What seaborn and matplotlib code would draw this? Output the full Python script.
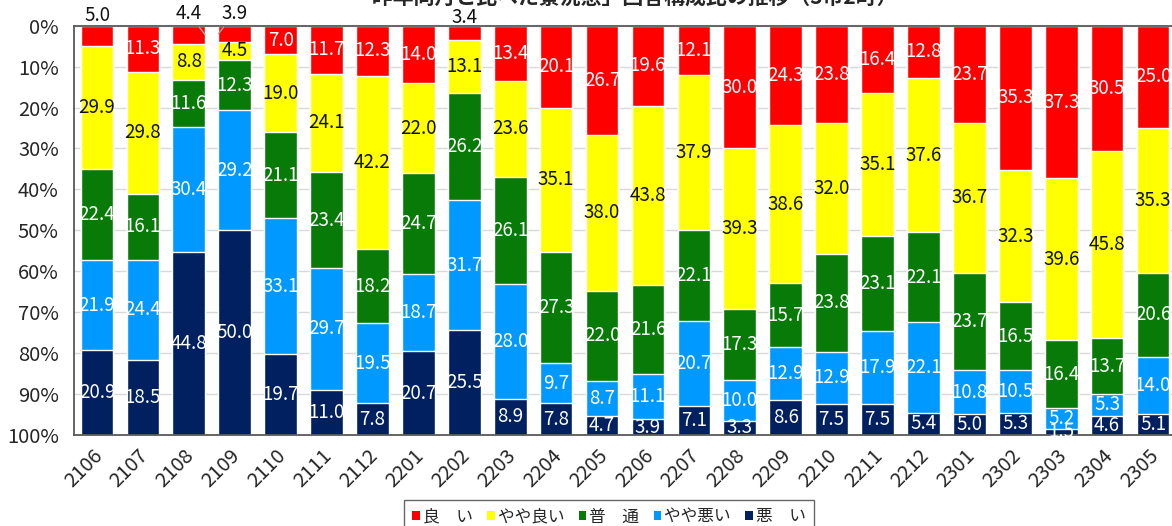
import matplotlib
matplotlib.use("Agg")
import matplotlib.pyplot as plt
from matplotlib.patches import Patch
from matplotlib.transforms import ScaledTranslation
import seaborn as sns
import pandas as pd
import numpy as np

months = ["2106", "2107", "2108", "2109", "2110", "2111", "2112", "2201", "2202",
          "2203", "2204", "2205", "2206", "2207", "2208", "2209", "2210", "2211",
          "2212", "2301", "2302", "2303", "2304", "2305"]
series_names = ["良　い", "やや良い", "普　通", "やや悪い", "悪　い"]
good = [5.0, 11.3, 4.4, 3.9, 7.0, 11.7, 12.3, 14.0, 3.4, 13.4, 20.1, 26.7,
        19.6, 12.1, 30.0, 24.3, 23.8, 16.4, 12.8, 23.7, 35.3, 37.3, 30.5, 25.0]
rather_good = [29.9, 29.8, 8.8, 4.5, 19.0, 24.1, 42.2, 22.0, 13.1, 23.6, 35.1, 38.0,
               43.8, 37.9, 39.3, 38.6, 32.0, 35.1, 37.6, 36.7, 32.3, 39.6, 45.8, 35.3]
normal = [22.4, 16.1, 11.6, 12.3, 21.1, 23.4, 18.2, 24.7, 26.2, 26.1, 27.3, 22.0,
          21.6, 22.1, 17.3, 15.7, 23.8, 23.1, 22.1, 23.7, 16.5, 16.4, 13.7, 20.6]
rather_bad = [21.9, 24.4, 30.4, 29.2, 33.1, 29.7, 19.5, 18.7, 31.7, 28.0, 9.7, 8.7,
              11.1, 20.7, 10.0, 12.9, 12.9, 17.9, 22.1, 10.8, 10.5, 5.2, 5.3, 14.0]
bad = [20.9, 18.5, 44.8, 50.0, 19.7, 11.0, 7.8, 20.7, 25.5, 8.9, 7.8, 4.7,
       3.9, 7.1, 3.3, 8.6, 7.5, 7.5, 5.4, 5.0, 5.3, 1.5, 4.6, 5.1]
title = "「昨年同月と比べた景況感」回答構成比の推移（3市2町）"

colors = ["#FF0000", "#FFFF00", "#087A08", "#0099FF", "#002060"]
text_colors = ["white", "#111111", "white", "white", "white"]

values = np.array([good, rather_good, normal, rather_bad, bad])
cum = np.cumsum(values, axis=0)
df = pd.DataFrame({"month": months})
for k, name in enumerate(series_names):
    df["cum%d" % k] = cum[k]

sns.set_style("white")
plt.rcParams["font.family"] = ["Noto Sans CJK JP", "DejaVu Sans"]

fig = plt.figure(figsize=(11.72, 5.26), dpi=100)
ax = fig.add_axes([74 / 1172, (526 - 435) / 526, (1176 - 74) / 1172, (435 - 25.7) / 526])

# draw cumulative bars from the longest to the shortest so they stack
for k in range(4, -1, -1):
    sns.barplot(data=df, x="month", y="cum%d" % k, color=colors[k], saturation=1,
                width=0.71, errorbar=None, ax=ax, zorder=2)

ax.set_ylim(100, 0)
ax.set_xlim(-0.5, len(months) - 0.5)
ax.set_yticks(np.arange(0, 101, 10))
ax.set_yticklabels(["%d%%" % v for v in range(0, 101, 10)], fontsize=14.5)
ax.yaxis.grid(True, color="#D9D9D9", linewidth=1, zorder=0)
ax.set_axisbelow(True)
ax.tick_params(axis="both", length=0)
ax.tick_params(axis="y", pad=11)
ax.set_xlabel("")
ax.set_ylabel("")
for side in ["left", "top", "bottom"]:
    ax.spines[side].set_color("#595959")
    ax.spines[side].set_linewidth(1.3)
ax.spines["right"].set_visible(False)

ax.set_xticks(range(len(months)))
ax.set_xticklabels(months, fontsize=14.5, rotation=45, ha="right", va="top",
                   rotation_mode="anchor")
offset = ScaledTranslation(-0.05, -0.05, fig.dpi_scale_trans)
for lab in ax.get_xticklabels():
    lab.set_transform(lab.get_transform() + offset)

# labels: small top segments go above the axis
outside = {0: -2.6, 2: -3.0, 3: -3.0, 8: -1.9}
leaders = {2: 0.355, 3: -0.355}
lab_fs = 13.5
for i in range(len(months)):
    start = 0.0
    for k in range(5):
        v = values[k, i]
        mid = start + v / 2
        if k == 0 and i in outside:
            if i in leaders:
                ax.annotate("%.1f" % v, xy=(i + leaders[i], mid), xytext=(i, outside[i]),
                            ha="center", va="center", fontsize=lab_fs, color="#111111",
                            annotation_clip=False,
                            arrowprops=dict(arrowstyle="-", color="#A6A6A6", lw=1,
                                            shrinkA=7, shrinkB=0))
            else:
                ax.text(i, outside[i], "%.1f" % v, ha="center", va="center",
                        fontsize=lab_fs, color="#111111", clip_on=False)
        else:
            ax.text(i, mid, "%.1f" % v, ha="center", va="center", fontsize=lab_fs,
                    color=text_colors[k], zorder=5)
        start += v

fig.text(625 / 1172, 1 + 3 / 526, title, ha="center", va="center", fontsize=15,
         fontweight="bold")

handles = [Patch(facecolor=c, edgecolor="none") for c in colors]
leg = fig.legend(handles, series_names, loc="upper center", ncol=5,
                 bbox_to_anchor=(609 / 1172, 1 - 500 / 526), fontsize=12,
                 handlelength=0.45, handleheight=0.45, handletextpad=0.2,
                 columnspacing=0.85, frameon=True, fancybox=False, borderpad=0.5,
                 borderaxespad=0)
leg.get_frame().set_edgecolor("#404040")
leg.get_frame().set_linewidth(1.0)

fig.savefig("out.png", dpi=100)
